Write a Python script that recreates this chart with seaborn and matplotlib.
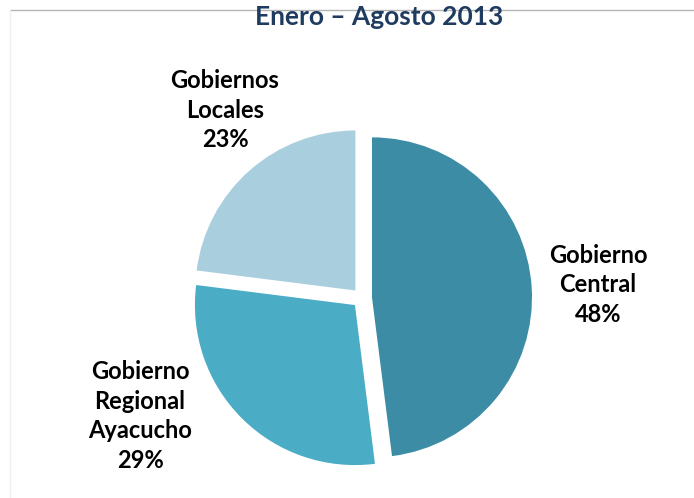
import matplotlib
matplotlib.use('Agg')
import matplotlib.pyplot as plt
from matplotlib.lines import Line2D
import seaborn as sns

# data
categories = ['Gobierno\nCentral', 'Gobierno\nRegional\nAyacucho', 'Gobiernos\nLocales']
shares = [48, 29, 23]
colors = ['#3B8CA4', '#4BACC6', '#A9CFDE']
title = 'Enero \u2013 Agosto 2013'

sns.set_theme(style='white')
plt.rcParams['font.family'] = ['Lato', 'DejaVu Sans']

fig = plt.figure(figsize=(6.94, 4.98), dpi=100)
# square axes, 400 px, pie center at (362, 298) px from top-left
ax = fig.add_axes([(362 - 200) / 694, 0, 400 / 694, 400 / 498])
wedges, _ = ax.pie(shares, colors=sns.color_palette(colors), startangle=90,
                   counterclock=False, explode=[0.0625] * len(shares),
                   wedgeprops=dict(linewidth=0))
for w in wedges:
    w.set_clip_on(False)
ax.set_xlim(-1.25, 1.25)
ax.set_ylim(-1.25, 1.25)
ax.set_aspect('equal')
ax.axis('off')

# slice labels (pixel positions of label centres)
label_pos = [(598, 285), (140, 416), (225, 110)]
for cat, val, (px, py) in zip(categories, shares, label_pos):
    fig.text(px / 694, 1 - py / 498, f'{cat}\n{val}%', ha='center', va='center',
             fontsize=17, fontweight='bold', color='black', linespacing=1.35)

fig.text(379 / 694, 1 - 17 / 498, title, ha='center', va='center',
         fontsize=19, fontweight='bold', color='#1F3B5F')

# frame remnants
fig.add_artist(Line2D([10 / 694, 1], [1 - 10 / 498, 1 - 10 / 498],
                      transform=fig.transFigure, color='#B4B4B4', lw=1))
fig.add_artist(Line2D([10 / 694, 10 / 694], [0, 1 - 10 / 498],
                      transform=fig.transFigure, color='#EEEEEE', lw=1))

fig.savefig('out.png', dpi=100)
